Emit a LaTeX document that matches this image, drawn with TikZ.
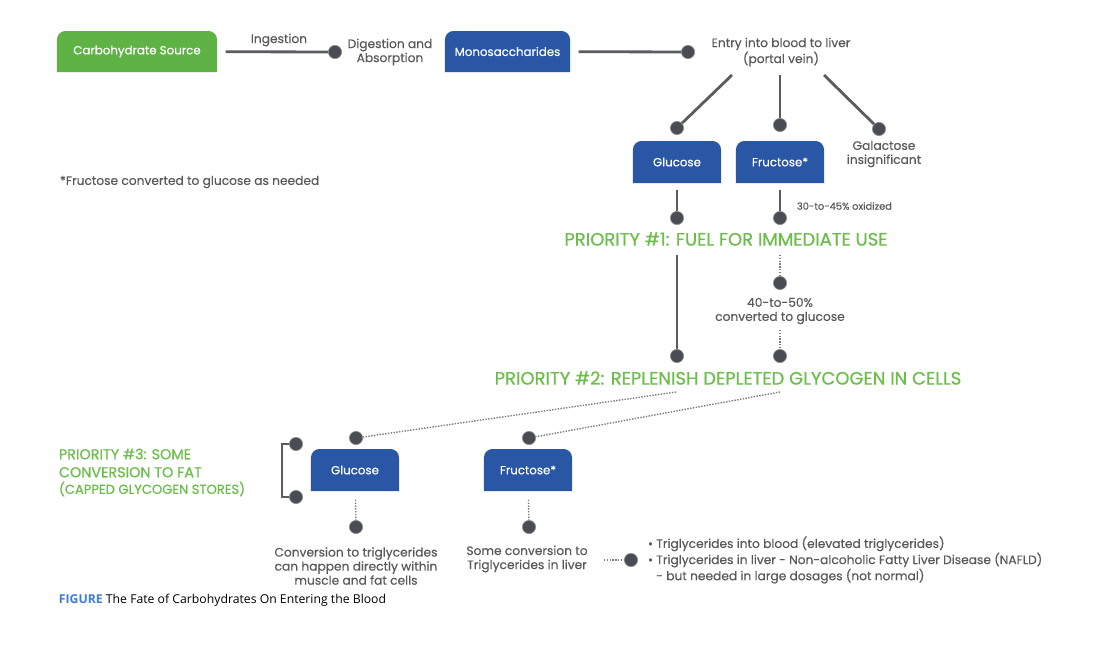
\documentclass[tikz,border=0pt]{standalone}
\usepackage{fontspec}
\setmainfont{Poppins}[FakeBold=0.3]
\newfontfamily\prfont{Poppins}[FakeBold=0.6]
\newfontfamily\capfont{Open Sans}
\definecolor{boxgreen}{HTML}{5FB244}
\definecolor{boxblue}{HTML}{2A57A5}
\definecolor{prgreen}{HTML}{6CBE4B}
\definecolor{txtgray}{HTML}{58595B}
\definecolor{linegray}{HTML}{5A5C62}
\definecolor{dotgray}{HTML}{4A4C53}
\definecolor{figblue}{HTML}{3B7DDD}
\tikzset{
  block/.style={text=white, minimum width=2.2cm, minimum height=1.05cm,
    font=\fontsize{8.4}{10}\selectfont,
    path picture={\fill[#1] (path picture bounding box.south west)
      [rounded corners=6pt] |- (path picture bounding box.north east)
      [sharp corners] |- cycle;}},
  greenbox/.style={block=boxgreen},
  bluebox/.style={block=boxblue},
  lbl/.style={text=txtgray, align=center, font=\fontsize{8.7}{10}\selectfont},
  small/.style={text=txtgray, font=\fontsize{7}{8}\selectfont},
  prio/.style={text=prgreen, font=\prfont\fontsize{12.8}{14}\selectfont},
  prio3/.style={text=prgreen, align=left, font=\prfont\fontsize{10.2}{12.8}\selectfont},
  dot/.style={circle, fill=dotgray, draw=linegray!70, line width=0.5pt,
    minimum size=0.33cm, inner sep=0pt},
  link/.style={draw=linegray, line width=2pt},
  dots/.style={draw=linegray!80, line width=1pt, dash pattern=on 1pt off 1pt},
}
\begin{document}
\begin{tikzpicture}[x=0.025cm, y=-0.025cm]
    \useasboundingbox[fill=white] (0,0) rectangle (1107,647);
    % top row
    \node[greenbox, minimum width=4cm, minimum height=1.025cm] (carb) at (137,51.5) {Carbohydrate Source};
    \node[dot] (d1) at (335,52) {};
    \node[lbl] (ing) at (279,40) {Ingestion};
    \node[lbl] (dig) at (390,52) {Digestion and\\Absorption};
    \node[bluebox, minimum width=3.125cm, minimum height=1.025cm] (mono) at (507.5,51.5) {Monosaccharides};
    \node[dot] (d2) at (688,52) {};
    \node[lbl] (entry) at (781,52) {Entry into blood to liver\\(portal vein)};
    \draw[link, shorten <=6pt] (carb) -- (d1);
    \draw[link, shorten <=6pt] (mono) -- (d2);
    % split in the liver
    \coordinate (e1) at (732,75);
    \coordinate (e2) at (780,75);
    \coordinate (e3) at (824,75);
    \node[dot] (g1) at (677,128) {};
    \node[dot] (f1) at (780,125) {};
    \node[dot] (ga) at (879,129) {};
    \draw[link] (e1) -- (g1);
    \draw[link] (e2) -- (f1);
    \draw[link] (e3) -- (ga);
    \node[bluebox] (glu1) at (677,162) {Glucose};
    \node[bluebox] (fru1) at (780,162) {Fructose*};
    \node[lbl] (gal) at (884,154) {Galactose\\insignificant};
    \node[lbl, anchor=west] (note) at (55,182) {*Fructose converted to glucose as needed};
    % priority 1
    \node[dot] (g2) at (677,218) {};
    \node[dot] (f2) at (780,218) {};
    \draw[link, shorten <=5pt] (glu1) -- (g2);
    \draw[link, shorten <=5pt] (fru1) -- (f2);
    \node[small, anchor=west] (ox) at (792,206) {30-to-45\% oxidized};
    \node[prio] (p1) at (726,239) {PRIORITY \#1: FUEL FOR IMMEDIATE USE};
    % priority 2
    \coordinate (g2b) at (677,255);
    \coordinate (f2b) at (780,255);
    \node[dot] (g3) at (677,356) {};
    \node[dot] (f3) at (780,283) {};
    \draw[link] (g2b) -- (g3);
    \draw[dots] (f2b) -- (f3);
    \node[lbl] (conv) at (780,311) {40-to-50\%\\converted to glucose};
    \coordinate (f3b) at (780,330);
    \node[dot] (f4) at (780,356) {};
    \draw[dots] (f3b) -- (f4);
    \node[prio] (p2) at (728,378) {PRIORITY \#2: REPLENISH DEPLETED GLYCOGEN IN CELLS};
    % priority 3
    \coordinate (g4a) at (676,392);
    \coordinate (f4a) at (780,392);
    \node[dot] (g5) at (356,438) {};
    \node[dot] (f5) at (529,438) {};
    \draw[dots] (g4a) -- (g5);
    \draw[dots] (f4a) -- (f5);
    \node[bluebox] (glu2) at (355,470) {Glucose};
    \node[bluebox] (fru2) at (528,470) {Fructose*};
    \node[dot] (b1) at (296,444) {};
    \node[dot] (b2) at (296,497) {};
    \draw[link] (b1) -- ++(-14,0) |- (b2);
    \node[prio3, anchor=west] (p3) at (54,463) {PRIORITY \#3: SOME\\CONVERSION TO FAT};
    \node[prio3, anchor=west, font=\prfont\fontsize{9.3}{10}\selectfont] (p3b) at (54,489) {(CAPPED GLYCOGEN STORES)};
    % conversion to fat
    \node[dot] (g6) at (356,527) {};
    \node[dot] (f6) at (529,527) {};
    \draw[dots, shorten <=6pt] (glu2) -- (g6);
    \draw[dots, shorten <=6pt] (fru2) -- (f6);
    \node[lbl] (tri1) at (356,566) {Conversion to triglycerides\\can happen directly within\\muscle and fat cells};
    \node[lbl] (tri2) at (527,559) {Some conversion to\\Triglycerides in liver};
    \coordinate (t2) at (604,560);
    \node[dot] (f7) at (631,560) {};
    \draw[dots] (t2) -- (f7);
    \node[lbl, anchor=west, align=left] (list) at (643,560) {• Triglycerides into blood (elevated triglycerides)\\• Triglycerides in liver - Non-alcoholic Fatty Liver Disease (NAFLD)\\\phantom{•} - but needed in large dosages (not normal)};
    % caption
    \node[anchor=west, font=\capfont\fontsize{8.7}{10}\selectfont] (cap) at (54,600) {\textcolor{figblue}{\bfseries FIGURE} The Fate of Carbohydrates On Entering the Blood};
\end{tikzpicture}
\end{document}
